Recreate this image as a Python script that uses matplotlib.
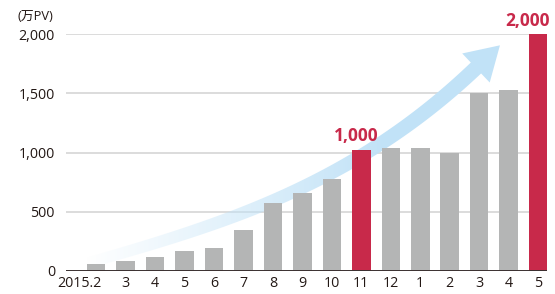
import numpy as np
import matplotlib
matplotlib.use("Agg")
import matplotlib.pyplot as plt
import matplotlib.transforms as mtransforms
from matplotlib.patches import Polygon

plt.rcParams['font.family'] = ['Open Sans', 'Noto Sans CJK JP', 'DejaVu Sans']

# data (万PV per month)
months = ["2015.2", "3", "4", "5", "6", "7", "8", "9", "10", "11",
          "12", "1", "2", "3", "4", "5"]
pv = [57, 82, 116, 167, 192, 344, 575, 660, 776, 1020,
      1040, 1040, 996, 1500, 1530, 2000]
highlight = [9, 15]
highlight_labels = ["1,000", "2,000"]
yticks = [0, 500, 1000, 1500, 2000]

GRAY = "#b4b5b5"
RED = "#c8294a"
TEXT = "#231815"
ARROW_RGB = (0.76, 0.89, 0.97)

fig = plt.figure(figsize=(5.55, 2.94), dpi=100)
ax = fig.add_axes([66 / 555, 23.3 / 294, 481 / 555, 236.4 / 294])

x = np.arange(len(months))
colors = [RED if i in highlight else GRAY for i in x]
ax.bar(x, pv, width=0.63, color=colors, zorder=3)

ax.set_xlim(-1.02, 15.3)
ax.set_ylim(0, 2000)

for y in yticks[1:]:
    ax.axhline(y, color="#d2d2d2", lw=1.1, zorder=1)
ax.axhline(0, color="#3a3030", lw=1.4, zorder=4)

for s in ax.spines.values():
    s.set_visible(False)
ax.set_xticks(x)
ax.set_xticklabels(months)
ax.set_yticks(yticks)
ax.set_yticklabels([f"{v:,}" for v in yticks])
ax.tick_params(length=0, labelsize=10.3, labelcolor=TEXT)
ax.tick_params(axis="y", pad=8)
ax.tick_params(axis="x", pad=4)
# first label sits left of its bar
first = ax.get_xticklabels()[0]
first.set_horizontalalignment("right")
first.set_transform(first.get_transform() +
                    mtransforms.ScaledTranslation(5 / 100, 0, fig.dpi_scale_trans))

# highlighted value labels
ax.text(highlight[0] - 0.17, pv[highlight[0]] + 40, highlight_labels[0],
        color=RED, fontsize=12.5, fontweight="bold", ha="center", va="bottom",
        zorder=5)
ax.text(highlight[1] - 0.37, pv[highlight[1]] + 35, highlight_labels[1],
        color=RED, fontsize=12.5, fontweight="bold", ha="center", va="bottom",
        zorder=5, clip_on=False)

fig.text(17 / 555, 1 - 16 / 294, "(万PV)", fontsize=9.3, color=TEXT,
         ha="left", va="center")

# growth arrow: bezier shaft in data coords, converted to pixels for width
ctrl = [(-0.54, 48), (4.55, 404), (8.82, 750), (12.89, 1715)]
P = ax.transData.transform(ctrl)
t = np.linspace(0, 1, 120)[:, None]
curve = ((1 - t) ** 3 * P[0] + 3 * (1 - t) ** 2 * t * P[1]
         + 3 * (1 - t) * t ** 2 * P[2] + t ** 3 * P[3])
d = np.gradient(curve, axis=0)
d /= np.linalg.norm(d, axis=1)[:, None]
nrm = np.column_stack([-d[:, 1], d[:, 0]])
half = 5.5 + 2.0 * t[:, 0]
upper = curve + nrm * half[:, None]
lower = curve - nrm * half[:, None]
tipdir = d[-1]
tipn = nrm[-1]
head_half = 20
head_len = 33
head = [curve[-1] + tipn * head_half,
        curve[-1] + tipdir * head_len,
        curve[-1] - tipn * head_half]
poly_px = np.vstack([upper, head, lower[::-1]])
poly = ax.transData.inverted().transform(poly_px)
patch = Polygon(poly, closed=True, facecolor="none", edgecolor="none")
ax.add_patch(patch)

# horizontal fade from white to light blue
nx = 400
xs = np.linspace(-1.02, 15.3, nx)
px = ax.transData.transform(np.column_stack([xs, np.zeros(nx)]))[:, 0]
alpha = np.clip((px - 85) / 300, 0, 1)
img = np.zeros((2, nx, 4))
img[..., 0] = ARROW_RGB[0]
img[..., 1] = ARROW_RGB[1]
img[..., 2] = ARROW_RGB[2]
img[..., 3] = alpha
im = ax.imshow(img, extent=(-1.02, 15.3, 0, 2000), aspect="auto",
               origin="lower", zorder=2, interpolation="bilinear")
im.set_clip_path(patch)
ax.set_xlim(-1.02, 15.3)
ax.set_ylim(0, 2000)

fig.savefig("out.png", dpi=100)
